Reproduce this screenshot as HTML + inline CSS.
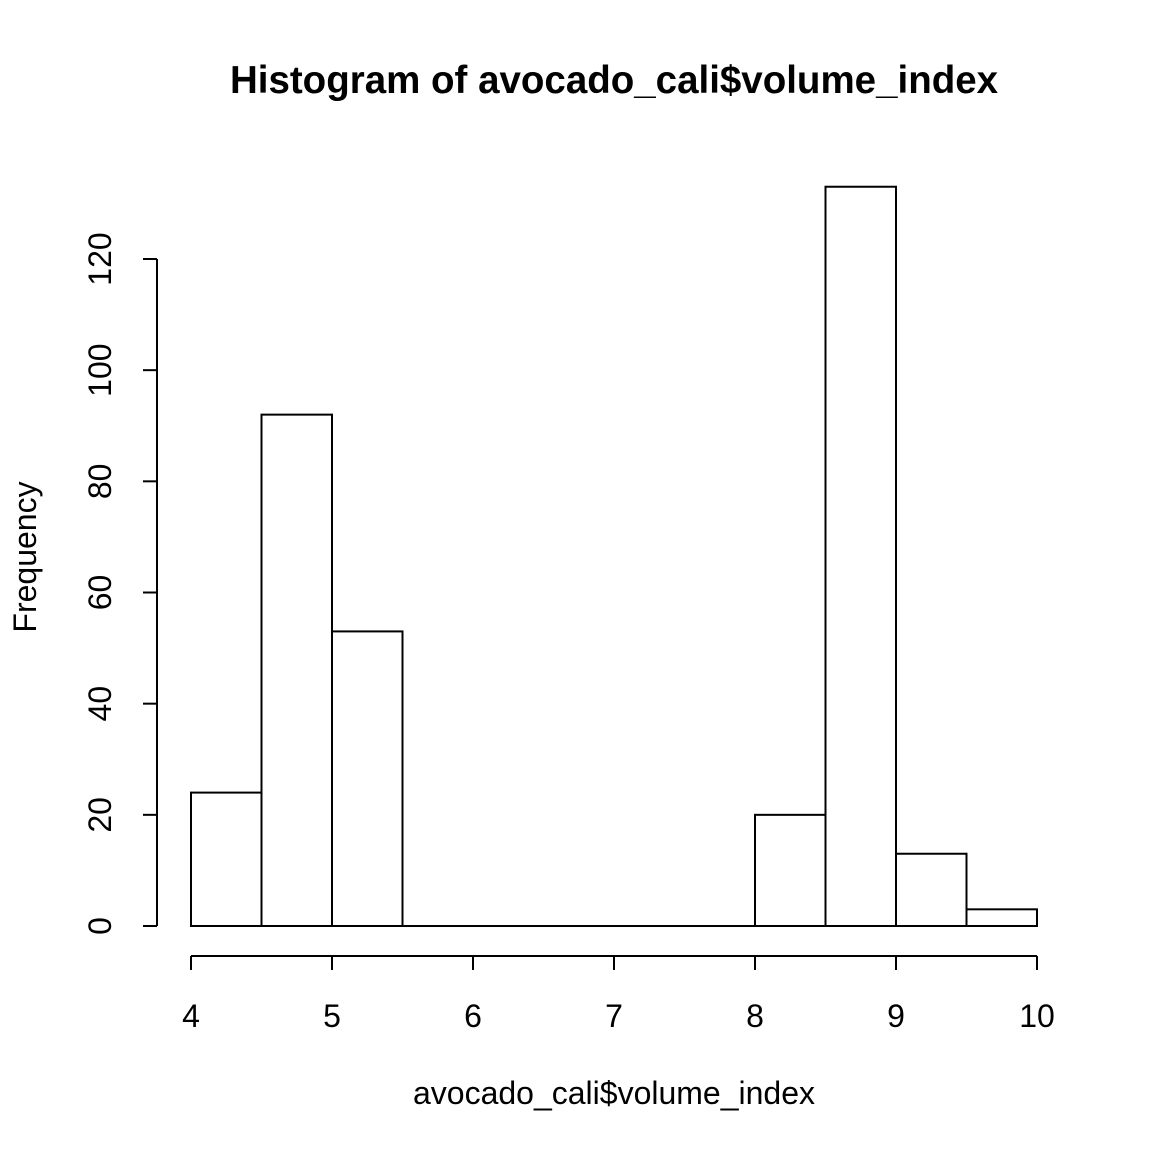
<!DOCTYPE html>
<html>
<head>
<meta charset="utf-8">
<style>
  html,body{margin:0;padding:0;background:#fff;}
  svg{display:block;}
  text{font-family:"Liberation Sans", Arial, sans-serif;fill:#000;}
</style>
</head>
<body>
<svg id="chart" width="1152" height="1152" viewBox="0 0 1152 1152">
  <text x="614" y="93" text-anchor="middle" font-size="38.5" font-weight="bold">Histogram of avocado_cali$volume_index</text>
  <text x="614" y="1104" text-anchor="middle" font-size="32">avocado_cali$volume_index</text>
  <text transform="translate(36,557) rotate(-90)" text-anchor="middle" font-size="32">Frequency</text>
  <g id="bars"></g>
  <g id="xaxis"></g>
  <g id="yaxis"></g>
</svg>
<script>
const binEdges = [4, 4.5, 5, 5.5, 6, 6.5, 7, 7.5, 8, 8.5, 9, 9.5, 10];
const counts = [24, 92, 53, 0, 0, 0, 0, 0, 20, 133, 13, 3];
const xTicks = [4, 5, 6, 7, 8, 9, 10];
const yTicks = [0, 20, 40, 60, 80, 100, 120];

const NS = "http://www.w3.org/2000/svg";
const X0 = 191, XPX = 141, Y0 = 926, YPX = (926 - 259) / 120;
function sx(v){ return X0 + (v - 4) * XPX; }
function sy(v){ return Y0 - v * YPX; }
function mk(tag, attrs, parent){
  const e = document.createElementNS(NS, tag);
  for (const k in attrs) e.setAttribute(k, attrs[k]);
  parent.appendChild(e);
  return e;
}
const bars = document.getElementById('bars');
counts.forEach((c, i) => {
  const x1 = sx(binEdges[i]), x2 = sx(binEdges[i+1]);
  const r = mk('rect', {x: x1, y: sy(c), width: x2 - x1, height: Math.max(sy(0) - sy(c), 0.01), fill: '#fff', stroke: '#000', 'stroke-width': 2}, bars);
  
  
});
const xa = document.getElementById('xaxis');
const AXY = 956;
mk('line', {x1: sx(xTicks[0]), x2: sx(xTicks[xTicks.length-1]), y1: AXY, y2: AXY, stroke: '#000', 'stroke-width': 2}, xa);
xTicks.forEach(t => {
  mk('line', {x1: sx(t), x2: sx(t), y1: AXY, y2: AXY + 14, stroke: '#000', 'stroke-width': 2}, xa);
  const tx = mk('text', {x: sx(t), y: 1027, 'text-anchor': 'middle', 'font-size': 32}, xa);
  tx.textContent = t;
  
  
});
const ya = document.getElementById('yaxis');
const AXX = 157;
mk('line', {x1: AXX, x2: AXX, y1: sy(yTicks[0]), y2: sy(yTicks[yTicks.length-1]), stroke: '#000', 'stroke-width': 2}, ya);
yTicks.forEach(t => {
  mk('line', {x1: AXX - 14, x2: AXX, y1: sy(t), y2: sy(t), stroke: '#000', 'stroke-width': 2}, ya);
  const tx = mk('text', {transform: 'translate(111,' + sy(t) + ') rotate(-90)', 'text-anchor': 'middle', 'font-size': 32}, ya);
  tx.textContent = t;
  
  
});
</script>
</body>
</html>
